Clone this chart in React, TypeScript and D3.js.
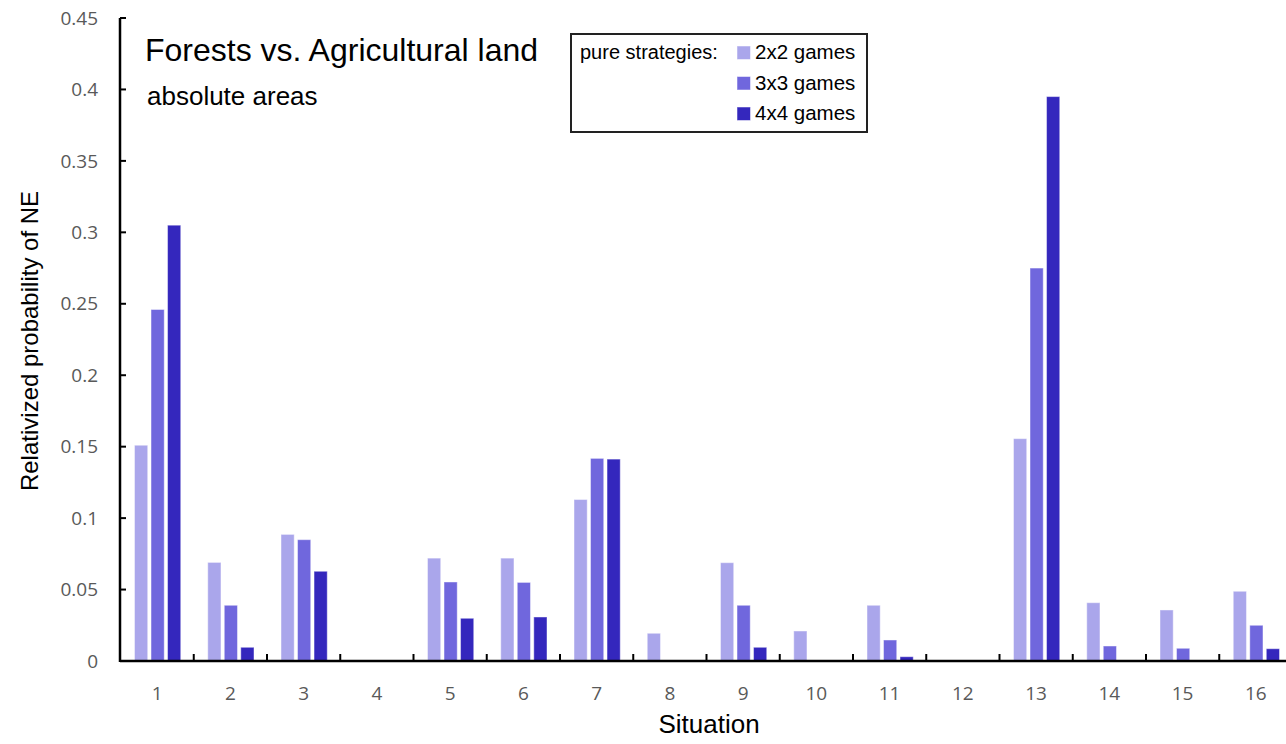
import * as d3 from "d3";

const situations = ["1", "2", "3", "4", "5", "6", "7", "8", "9", "10", "11", "12", "13", "14", "15", "16"];
const seriesNames = ["2x2 games", "3x3 games", "4x4 games"];
const games2x2 = [0.151, 0.069, 0.0886, 0, 0.072, 0.072, 0.113, 0.0194, 0.0688, 0.021, 0.039, 0, 0.1556, 0.0408, 0.0357, 0.0488];
const games3x3 = [0.246, 0.039, 0.0849, 0, 0.0553, 0.055, 0.1418, 0, 0.039, 0, 0.0147, 0, 0.275, 0.0105, 0.0089, 0.025];
const games4x4 = [0.305, 0.0096, 0.0628, 0, 0.0299, 0.0308, 0.1413, 0, 0.0096, 0, 0.003, 0, 0.395, 0, 0, 0.0086];
const yTicks = [0, 0.05, 0.1, 0.15, 0.2, 0.25, 0.3, 0.35, 0.4, 0.45];
const colors = ["#aaa6eb", "#7067dd", "#3427bd"];

const W = 1286;
const H = 744;
const left = 120;
const bottom = 661;
const top = 18;

export default function App() {
  const x = d3.scaleBand<string>().domain(situations).range([120.5, 120.5 + 16 * 73.25]).padding(0);
  const inner = d3
    .scaleBand<string>()
    .domain(seriesNames)
    .range([14, x.bandwidth() - 13])
    .paddingInner(0.2);
  const y = d3.scaleLinear().domain([0, 0.45]).range([bottom, top]);
  const series = [games2x2, games3x3, games4x4];

  const tickFont = "'Open Sans', 'DejaVu Sans', sans-serif";
  const arial = "'Liberation Sans', Arial, sans-serif";

  return (
    <svg width={W} height={H} style={{ position: "absolute", left: 0, top: 0, background: "#fff" }}>
      {/* bars */}
      {situations.map((s, i) => (
        <g key={s} transform={`translate(${x(s)},0)`}>
          {series.map((vals, k) =>
            vals[i] > 0 ? (
              <rect
                key={k}
                x={inner(seriesNames[k])}
                y={y(vals[i])}
                width={inner.bandwidth()}
                height={bottom - y(vals[i])}
                fill={colors[k]}
                stroke="#ffffff"
                strokeOpacity={0.45}
                strokeWidth={1}
              />
            ) : null
          )}
        </g>
      ))}

      {/* y axis */}
      <line x1={left} x2={left} y1={top} y2={bottom + 1} stroke="#000" strokeWidth={2.5} />
      {yTicks.map((t) => (
        <g key={t}>
          {t > 0 && <line x1={left} x2={left + 6} y1={y(t)} y2={y(t)} stroke="#000" strokeWidth={2} />}
          <text
            x={98}
            y={y(t)}
            dy="0.35em"
            textAnchor="end"
            fontFamily={tickFont}
            fontSize={19}
            fill="#595959"
          >
            {t === 0 ? "0" : String(t)}
          </text>
        </g>
      ))}

      {/* x axis */}
      <line x1={left} x2={W} y1={bottom} y2={bottom} stroke="#000" strokeWidth={2.5} />
      {situations.slice(1).map((s) => (
        <line key={s} x1={x(s)} x2={x(s)} y1={bottom} y2={bottom - 7} stroke="#000" strokeWidth={2} />
      ))}
      {situations.map((s) => (
        <text
          key={s}
          x={(x(s) as number) + x.bandwidth() / 2}
          y={700}
          textAnchor="middle"
          fontFamily={tickFont}
          fontSize={19}
          fill="#595959"
        >
          {s}
        </text>
      ))}

      {/* axis titles */}
      <text x={709} y={733} textAnchor="middle" fontFamily={arial} fontSize={26} fill="#000">
        Situation
      </text>
      <text
        transform="translate(38,341) rotate(-90)"
        textAnchor="middle"
        fontFamily={arial}
        fontSize={24}
        fill="#000"
      >
        Relativized probability of NE
      </text>

      {/* titles */}
      <text x={145} y={61} fontFamily={arial} fontSize={32} fill="#000">
        Forests vs. Agricultural land
      </text>
      <text x={147} y={105} fontFamily={arial} fontSize={26} fill="#000">
        absolute areas
      </text>

      {/* legend */}
      <rect x={571} y={34} width={296} height={98} fill="#fff" stroke="#222" strokeWidth={2} />
      <text x={580} y={59} fontFamily={arial} fontSize={20} fill="#000">
        pure strategies:
      </text>
      {seriesNames.map((n, k) => (
        <g key={n} transform={`translate(0,${k * 30.5})`}>
          <rect x={737} y={46} width={13.5} height={13.5} fill={colors[k]} stroke="#fff" strokeOpacity={0.5} />
          <text x={755} y={59} fontFamily={arial} fontSize={20.5} fill="#000">
            {n}
          </text>
        </g>
      ))}
    </svg>
  );
}
